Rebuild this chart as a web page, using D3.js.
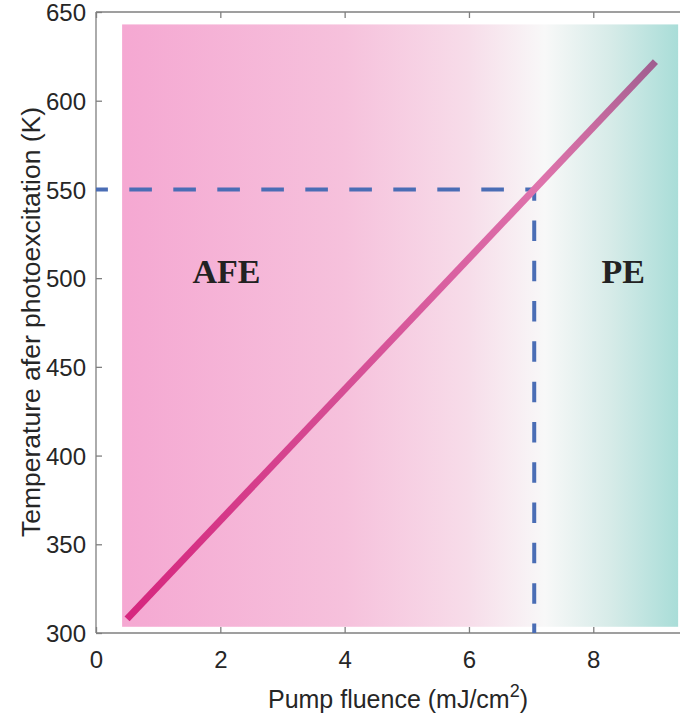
<!DOCTYPE html>
<html><head><meta charset="utf-8">
<script src="https://cdn.jsdelivr.net/npm/d3@7"></script>
<style>body{margin:0;background:#fff}svg{display:block}</style>
</head><body><div id="c"></div>
<script>
// data
const lineX = [0.5, 9.0];
const lineY = [308, 622];
const thresholdX = 7.05;
const thresholdY = 550;
const xTicks = [0, 2, 4, 6, 8];
const yTicks = [300, 350, 400, 450, 500, 550, 600, 650];
const regionX = [0.42, 9.365];
const regionY = [303.5, 643];
const phaseLabels = ["AFE", "PE"];
const phaseLabelX = [2.1, 8.48];
const phaseLabelY = [497.5];

const W = 680, H = 722;
const svg = d3.select("#c").append("svg").attr("width", W).attr("height", H);
const x = d3.scaleLinear().domain([0, 9.5]).range([96, 96 + 9.5 * 62.16]);
const y = d3.scaleLinear().domain([300, 650]).range([633, 12]);

const defs = svg.append("defs");
const bg = defs.append("linearGradient").attr("id", "bg")
  .attr("gradientUnits", "userSpaceOnUse")
  .attr("x1", x(regionX[0])).attr("x2", x(regionX[1])).attr("y1", 0).attr("y2", 0);
[[0, "#f5a8d2"], [0.4, "#f6c1dc"], [0.62, "#f7dce9"], [0.76, "#f8f8f8"], [0.88, "#d6ebe8"], [1, "#a9ddd8"]]
  .forEach(([o, c]) => bg.append("stop").attr("offset", o).attr("stop-color", c));

const lg = defs.append("linearGradient").attr("id", "lg")
  .attr("gradientUnits", "userSpaceOnUse")
  .attr("x1", x(lineX[0])).attr("y1", y(lineY[0])).attr("x2", x(lineX[1])).attr("y2", y(lineY[1]));
[[0, "#d6267e"], [0.4, "#d54d94"], [0.7, "#db69a6"], [0.78, "#df74ac"], [0.88, "#c96ba0"], [1, "#a05e90"]]
  .forEach(([o, c]) => lg.append("stop").attr("offset", o).attr("stop-color", c));

// background region
svg.append("rect")
  .attr("x", x(regionX[0])).attr("y", y(regionY[1]))
  .attr("width", x(regionX[1]) - x(regionX[0]))
  .attr("height", y(regionY[0]) - y(regionY[1]))
  .attr("fill", "url(#bg)");

// axes
const axisColor = "#7f7f7f";
const gB = svg.append("g").attr("transform", `translate(0,${y(300)})`)
  .call(d3.axisBottom(x).tickValues(xTicks).tickSize(-6).tickPadding(18).tickFormat(d3.format("d")));
const gT = svg.append("g").attr("transform", `translate(0,${y(650)})`)
  .call(d3.axisTop(x).tickValues(xTicks).tickSize(-6).tickFormat(""));
const gL = svg.append("g").attr("transform", `translate(${x(0)},0)`)
  .call(d3.axisLeft(y).tickValues(yTicks).tickSize(-6).tickPadding(10).tickFormat(d3.format("d")));
[gB, gT, gL].forEach(g => {
  g.select(".domain").attr("stroke", axisColor).attr("stroke-width", 1.3);
  g.selectAll(".tick line").attr("stroke", axisColor).attr("stroke-width", 1.3);
  g.selectAll("text").attr("fill", "#262626").attr("font-family", "Liberation Sans, Arial, sans-serif").attr("font-size", 24);
});
gB.selectAll(".tick line").attr("y2", -6);
gB.select(".domain").attr("d", `M${x(0)},0H${W + 10}`);
gT.select(".domain").attr("d", `M${x(0)},0H${W + 10}`);
gL.select(".domain").attr("d", `M0,${y(300)}V${y(650)}`);
gL.selectAll("text").attr("dy", "0.36em");

// dashed threshold lines
svg.append("line")
  .attr("x1", x(0)).attr("y1", y(thresholdY)).attr("x2", x(thresholdX) + 2).attr("y2", y(thresholdY))
  .attr("stroke", "#4a6db5").attr("stroke-width", 4)
  .attr("stroke-dasharray", "22.6,21.4").attr("stroke-dashoffset", 10.7);
svg.append("line")
  .attr("x1", x(thresholdX)).attr("y1", y(thresholdY) - 2).attr("x2", x(thresholdX)).attr("y2", y(300))
  .attr("stroke", "#4a6db5").attr("stroke-width", 4)
  .attr("stroke-dasharray", "20.5,19.8").attr("stroke-dashoffset", 7.3);

// main line
svg.append("line")
  .attr("x1", x(lineX[0])).attr("y1", y(lineY[0]))
  .attr("x2", x(lineX[1])).attr("y2", y(lineY[1]))
  .attr("stroke", "url(#lg)").attr("stroke-width", 7).attr("stroke-linecap", "butt");

// phase labels
svg.selectAll("text.phase").data(phaseLabels).enter().append("text")
  .attr("class", "phase")
  .attr("x", (d, i) => x(phaseLabelX[i])).attr("y", y(phaseLabelY[0]))
  .attr("text-anchor", "middle")
  .attr("font-family", "Liberation Serif, Times New Roman, serif")
  .attr("font-weight", "bold").attr("font-size", 34).attr("fill", "#222")
  .text(d => d);

// axis titles
const xl = svg.append("text").attr("x", 398).attr("y", 708)
  .attr("text-anchor", "middle").attr("font-family", "Liberation Sans, Arial, sans-serif")
  .attr("font-size", 25).attr("fill", "#262626");
xl.append("tspan").text("Pump fluence (mJ/cm");
xl.append("tspan").attr("dy", -11).attr("font-size", 18).text("2");
xl.append("tspan").attr("dy", 11).text(")");

svg.append("text").attr("transform", `translate(40,${322}) rotate(-90)`)
  .attr("text-anchor", "middle").attr("font-family", "Liberation Sans, Arial, sans-serif")
  .attr("font-size", 26.5).attr("fill", "#262626")
  .text("Temperature afer photoexcitation (K)");
</script></body></html>
